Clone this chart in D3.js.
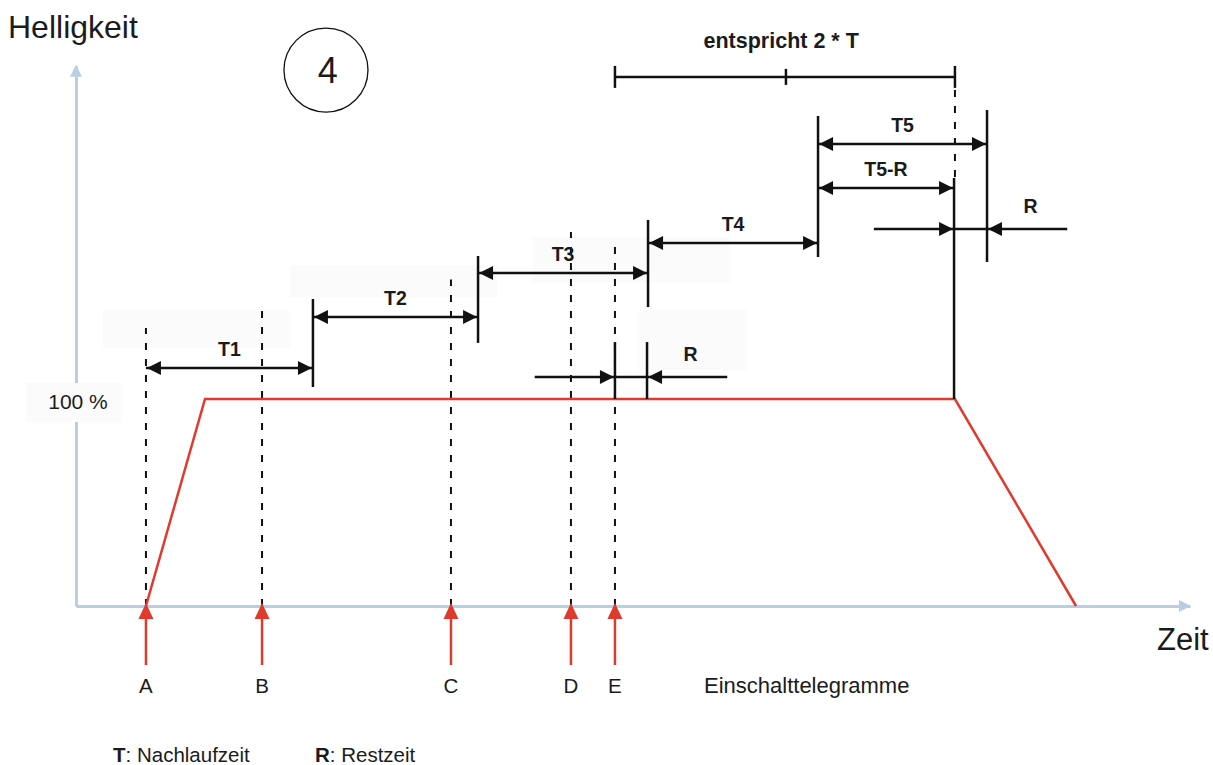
<!DOCTYPE html>
<html>
<head>
<meta charset="utf-8">
<script src="https://cdn.jsdelivr.net/npm/d3@7"></script>
<style>
body { margin: 0; background: #fff; }
text { font-family: "Liberation Sans", Arial, sans-serif; fill: #1b1b1b; }
.lbl { font-weight: bold; font-size: 19.5px; }
</style>
</head>
<body>
<div class="chart"></div>
<script>
const width = 1213;
const height = 765;

// time axis 0..100, brightness axis in percent
const timeMax = 100;
const brightTop = 261;

// brightness curve (red)
const curveTimes = [6.28, 11.58, 78.9, 89.77];
const curveLevels = [0, 100, 100, 0];

// switch-on telegrams
const telegrams = ['A', 'B', 'C', 'D', 'E'];
const telegramTimes = [6.28, 16.7, 33.66, 44.43, 48.38];

// dashed helper lines
const dashTimes = [6.28, 16.7, 33.66, 44.43, 48.38, 78.9];
const dashFrom = [0, 0, 0, 0, 0, 207.2];
const dashTo = [134.3, 142.5, 157.7, 180.7, 177.3, 250.7];

// follow-up time spans
const spanNames = ['T1', 'T2', 'T3', 'T4', 'T5', 'T5-R'];
const spanStart = [6.28, 21.27, 36.09, 51.35, 66.61, 66.61];
const spanEnd = [21.27, 36.09, 51.35, 66.61, 81.78, 78.82];
const spanLevel = [115, 139.6, 160.9, 175.4, 223.2, 201.9];

// solid boundary marks
const markTimes = [21.27, 36.09, 51.35, 66.61, 81.78, 78.82, 48.38, 51.26];
const markFrom = [105.8, 127.1, 144.4, 168.6, 166.2, 100, 100, 100];
const markTo = [148.3, 169.1, 186.5, 236.7, 239.6, 206.8, 127.5, 127.5];

// remaining time R
const restStart = [48.38, 78.82];
const restEnd = [51.26, 81.78];
const restLevel = [110.6, 182.1];
const restTail = 7.2;

// "entspricht 2 * T" bracket
const bracketTicks = [48.38, 63.73, 78.9];
const bracketLevel = 255.6;

// faint label backgrounds [t0, t1, v0, v1]
const boxT0 = [2.42, 19.21, 41.02, 50.45];
const boxT1 = [19.21, 37.79, 58.71, 60.23];
const boxV0 = [124.6, 149.3, 156.0, 114.0];
const boxV1 = [143.0, 164.7, 178.3, 143.0];

const black = '#111';
const red = '#e03a2e';
const axisBlue = '#b9cde5';
const boxFill = '#fbfbfb';

const svg = d3.select('.chart').append('svg')
    .attr('width', width)
    .attr('height', height);

const x = d3.scaleLinear().domain([0, timeMax]).range([76, 1190]);
const y = d3.scaleLinear().domain([0, 100]).range([606, 399]);
const yAxisScale = d3.scaleLinear().domain([0, brightTop]).range([y(0), y(brightTop)]);

// filled triangle head, tip at (tx, ty)
function head(g, tx, ty, dir, len, half, color) {
    let pts;
    if (dir === 'right') pts = [[tx, ty], [tx - len, ty - half], [tx - len, ty + half]];
    else if (dir === 'left') pts = [[tx, ty], [tx + len, ty - half], [tx + len, ty + half]];
    else pts = [[tx, ty], [tx - half, ty + len], [tx + half, ty + len]];
    g.append('path')
        .attr('d', 'M' + pts.join('L') + 'Z')
        .attr('fill', color);
}

/* faint boxes behind labels */
svg.append('g').selectAll('rect')
    .data(boxT0)
    .enter().append('rect')
    .attr('x', (d) => x(d))
    .attr('y', (d, i) => y(boxV1[i]))
    .attr('width', (d, i) => x(boxT1[i]) - x(d))
    .attr('height', (d, i) => y(boxV0[i]) - y(boxV1[i]))
    .attr('fill', boxFill);

/* axes */
const axes = svg.append('g');
axes.append('g')
    .attr('transform', `translate(0, ${y(0)})`)
    .call(d3.axisBottom(x).tickValues([]).tickSizeOuter(0))
    .select('.domain')
    .attr('stroke', axisBlue)
    .attr('stroke-width', 3);
axes.append('g')
    .attr('transform', `translate(${x(0)}, 0)`)
    .call(d3.axisLeft(yAxisScale).tickValues([]).tickSizeOuter(0))
    .select('.domain')
    .attr('stroke', axisBlue)
    .attr('stroke-width', 3);
head(axes, x(timeMax) + 1, y(0), 'right', 12, 6, axisBlue);
head(axes, x(0), yAxisScale(brightTop) - 1, 'up', 12, 6, axisBlue);

/* 100 % label with its box over the axis */
svg.append('rect')
    .attr('x', x(-4.49))
    .attr('y', y(107.7))
    .attr('width', x(4.13) - x(-4.49))
    .attr('height', y(88.9) - y(107.7))
    .attr('fill', boxFill);
svg.append('text')
    .attr('x', x(0) + 2)
    .attr('y', y(100) + 10)
    .attr('text-anchor', 'middle')
    .style('font-size', '21px')
    .text('100 %');

/* dashed lines */
svg.append('g').selectAll('line')
    .data(dashTimes)
    .enter().append('line')
    .attr('x1', (d) => x(d))
    .attr('x2', (d) => x(d))
    .attr('y1', (d, i) => y(dashFrom[i]))
    .attr('y2', (d, i) => y(dashTo[i]))
    .attr('stroke', black)
    .attr('stroke-width', 2)
    .attr('stroke-dasharray', '7,9');

/* brightness curve */
svg.append('path')
    .datum(curveTimes)
    .attr('d', d3.line().x((d) => x(d)).y((d, i) => y(curveLevels[i])))
    .attr('fill', 'none')
    .attr('stroke', red)
    .attr('stroke-width', 2.5);

/* solid marks */
svg.append('g').selectAll('line')
    .data(markTimes)
    .enter().append('line')
    .attr('x1', (d) => x(d))
    .attr('x2', (d) => x(d))
    .attr('y1', (d, i) => y(markFrom[i]))
    .attr('y2', (d, i) => y(markTo[i]))
    .attr('stroke', black)
    .attr('stroke-width', 2.5);

/* T spans */
const spans = svg.append('g');
spanNames.forEach((name, i) => {
    const x0 = x(spanStart[i]), x1 = x(spanEnd[i]), yy = y(spanLevel[i]);
    spans.append('line')
        .attr('x1', x0).attr('x2', x1)
        .attr('y1', yy).attr('y2', yy)
        .attr('stroke', black)
        .attr('stroke-width', 2.5);
    head(spans, x0 + 1, yy, 'left', 14, 7, black);
    head(spans, x1 - 1, yy, 'right', 14, 7, black);
    spans.append('text')
        .attr('class', 'lbl')
        .attr('x', (x0 + x1) / 2)
        .attr('y', yy - 12)
        .attr('text-anchor', 'middle')
        .text(name);
});

/* R markers */
const rest = svg.append('g');
restStart.forEach((s, i) => {
    const x0 = x(s), x1 = x(restEnd[i]), yy = y(restLevel[i]);
    rest.append('line')
        .attr('x1', x(s - restTail)).attr('x2', x(restEnd[i] + restTail))
        .attr('y1', yy).attr('y2', yy)
        .attr('stroke', black)
        .attr('stroke-width', 2.5);
    head(rest, x0 - 1, yy, 'right', 14, 7, black);
    head(rest, x1 + 1, yy, 'left', 14, 7, black);
    rest.append('text')
        .attr('class', 'lbl')
        .attr('x', x(restEnd[i] + 3.9))
        .attr('y', yy - 16)
        .attr('text-anchor', 'middle')
        .text('R');
});

/* bracket "entspricht 2 * T" */
const br = svg.append('g');
br.append('line')
    .attr('x1', x(bracketTicks[0])).attr('x2', x(bracketTicks[2]))
    .attr('y1', y(bracketLevel)).attr('y2', y(bracketLevel))
    .attr('stroke', black).attr('stroke-width', 2.5);
br.selectAll('.tick-mark')
    .data(bracketTicks)
    .enter().append('line')
    .attr('class', 'tick-mark')
    .attr('x1', (d) => x(d)).attr('x2', (d) => x(d))
    .attr('y1', (d, i) => y(bracketLevel) - (i === 1 ? 8 : 11))
    .attr('y2', (d, i) => y(bracketLevel) + (i === 1 ? 8 : 11))
    .attr('stroke', black).attr('stroke-width', 2.5);
br.append('text')
    .attr('class', 'lbl')
    .attr('x', x(63.3))
    .attr('y', y(bracketLevel) - 29)
    .attr('text-anchor', 'middle')
    .style('font-size', '21.5px')
    .text('entspricht 2 * T');

/* telegram arrows */
const tg = svg.append('g');
tg.selectAll('line')
    .data(telegramTimes)
    .enter().append('line')
    .attr('x1', (d) => x(d)).attr('x2', (d) => x(d))
    .attr('y1', y(-28.5)).attr('y2', y(1.5) + 10)
    .attr('stroke', red).attr('stroke-width', 2.5);
telegramTimes.forEach((t) => head(tg, x(t), y(1.5), 'up', 16, 7.5, red));
tg.selectAll('text')
    .data(telegrams)
    .enter().append('text')
    .attr('x', (d, i) => x(telegramTimes[i]))
    .attr('y', y(-42))
    .attr('text-anchor', 'middle')
    .style('font-size', '20.5px')
    .text((d) => d);
svg.append('text')
    .attr('x', 704)
    .attr('y', y(-42))
    .style('font-size', '22px')
    .text('Einschalttelegramme');

/* axis titles */
svg.append('text')
    .attr('x', 8).attr('y', 38)
    .style('font-size', '32px')
    .text('Helligkeit');
svg.append('text')
    .attr('x', 1157).attr('y', 650)
    .style('font-size', '31px')
    .text('Zeit');

/* circled number */
svg.append('circle')
    .attr('cx', x(22.44)).attr('cy', yAxisScale(258.9))
    .attr('r', 42)
    .attr('fill', 'none')
    .attr('stroke', black)
    .attr('stroke-width', 1.3);
svg.append('text')
    .attr('x', x(22.6)).attr('y', yAxisScale(258.9) + 13)
    .attr('text-anchor', 'middle')
    .style('font-size', '36px')
    .text('4');

/* legend */
const legend = svg.append('text')
    .attr('y', 762)
    .style('font-size', '20.5px');
legend.append('tspan').attr('x', 113).style('font-weight', 'bold').text('T');
legend.append('tspan').text(': Nachlaufzeit');
legend.append('tspan').attr('x', 315).style('font-weight', 'bold').text('R');
legend.append('tspan').text(': Restzeit');
</script>
</body>
</html>
